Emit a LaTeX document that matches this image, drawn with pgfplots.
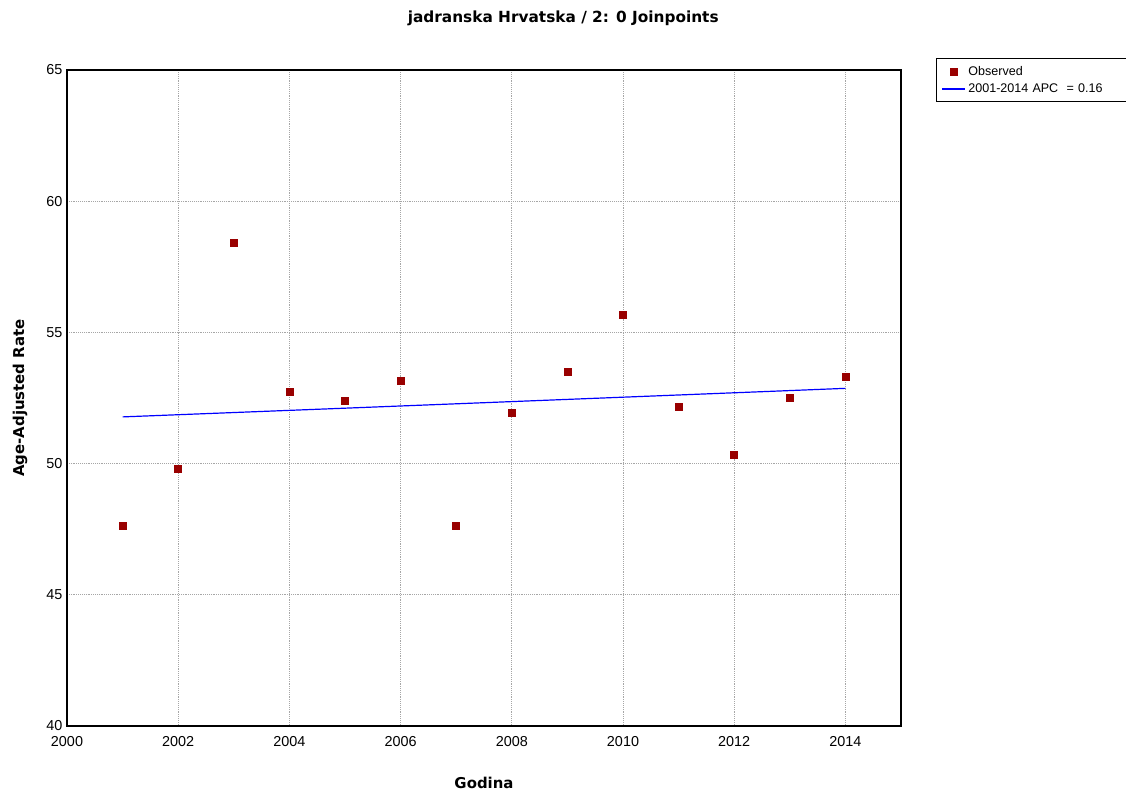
\documentclass[border=0pt]{standalone}
\usepackage{fontspec}
\setmainfont{Liberation Sans}
\newfontfamily\titlefont{DejaVu Sans}
\usepackage{pgfplots}
\pgfplotsset{compat=1.18}

\definecolor{obsred}{HTML}{990000}
\definecolor{fitblue}{HTML}{0000FF}

\begin{document}
\begin{tikzpicture}
\useasboundingbox (-50.25pt,-50.25pt) rectangle (794.25pt,544.5pt);
\begin{axis}[
    scale only axis,
    width=625.5pt, height=492pt,
    xmin=2000, xmax=2015, ymin=40, ymax=65,
    xtick={2000,2002,...,2014},
    ytick={40,45,...,65},
    /pgf/number format/assume math mode=true,
    x tick label style={/pgf/number format/1000 sep={}},
    tick label style={font=\fontsize{10.8}{12}\selectfont},
    major tick length=0pt,
    xticklabel shift=4pt,
    grid=major,
    major grid style={gray!70, densely dotted, line width=0.6pt},
    axis line style={line width=1pt},
    title={\titlefont\bfseries jadranska Hrvatska / 2: 0 Joinpoints},
    title style={at={(rel axis cs:0.595,1.066)}, anchor=center, yshift=0pt, font=\fontsize{11.5}{13}\selectfont},
    xlabel={\titlefont\bfseries Godina},
    xlabel style={at={(rel axis cs:0.5,-0.0869)}, anchor=center, yshift=0pt, font=\fontsize{11.2}{13}\selectfont},
    ylabel={\titlefont\bfseries Age-Adjusted Rate},
    ylabel style={at={(rel axis cs:-0.0564,0.5)}, anchor=center, rotate=0, font=\fontsize{11.2}{13}\selectfont},
    legend style={at={(rel axis cs:1.042,1.018)}, anchor=north west,
        font=\fontsize{9.4}{10}\selectfont, draw=black, line width=0.6pt,
        row sep=1pt, inner xsep=4pt, inner ysep=3.5pt,
        text width=126pt},
    legend cell align=left,
]
\addplot[only marks, mark=square*, mark size=2.6pt, color=obsred] coordinates {
    (2001,47.62) (2002,49.79) (2003,58.41) (2004,52.73) (2005,52.39)
    (2006,53.15) (2007,47.62) (2008,51.93) (2009,53.49) (2010,55.66)
    (2011,52.16) (2012,50.33) (2013,52.50) (2014,53.30)
};
\addlegendentry{Observed}
\addplot[fitblue, line width=0.9pt, no marks] coordinates {
    (2001,51.780) (2002,51.863) (2003,51.946) (2004,52.029) (2005,52.112)
    (2006,52.196) (2007,52.279) (2008,52.363) (2009,52.447) (2010,52.531)
    (2011,52.615) (2012,52.699) (2013,52.783) (2014,52.868)
};
\addlegendentry{2001-2014 APC\ \ = 0.16}
\end{axis}
\end{tikzpicture}
\end{document}
